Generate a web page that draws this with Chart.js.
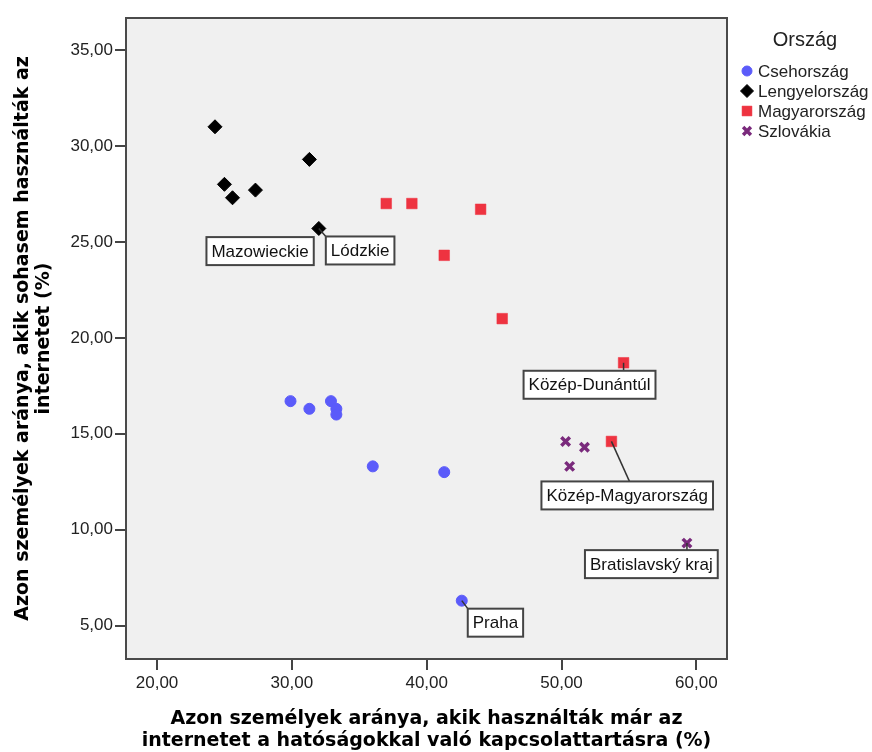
<!DOCTYPE html>
<html>
<head>
<meta charset="utf-8">
<script src="https://cdn.jsdelivr.net/npm/chart.js@4.4.1/dist/chart.umd.min.js"></script>
<style>
  html, body { margin: 0; padding: 0; background: #fff; }
</style>
</head>
<body>
<canvas id="myChart" width="872" height="752"></canvas>
<script>
// data
var countries = ['Csehország', 'Lengyelország', 'Magyarország', 'Szlovákia'];

var czX = [29.9, 31.3, 32.9, 33.3, 33.3, 36.0, 41.3, 42.6];
var czY = [16.7, 16.3, 16.7, 16.3, 16.0, 13.3, 13.0, 6.3];

var plX = [24.3, 31.3, 25.0, 25.6, 27.3, 32.0];
var plY = [31.0, 29.3, 28.0, 27.3, 27.7, 25.7];

var huX = [37.0, 38.9, 44.0, 41.3, 45.6, 54.6, 53.7];
var huY = [27.0, 27.0, 26.7, 24.3, 21.0, 18.7, 14.6];

var skX = [50.3, 51.7, 50.6, 59.3];
var skY = [14.6, 14.3, 13.3, 9.3];

var xTicks = [20, 30, 40, 50, 60];
var yTicks = [5, 10, 15, 20, 25, 30, 35];

// which point carries a name (series index, point index)
var pointLabels = [
  { series: 1, index: 4, text: 'Mazowieckie' },
  { series: 1, index: 5, text: 'Lódzkie' },
  { series: 2, index: 5, text: 'Közép-Dunántúl' },
  { series: 2, index: 6, text: 'Közép-Magyarország' },
  { series: 3, index: 3, text: 'Bratislavský kraj' },
  { series: 0, index: 7, text: 'Praha' }
];

// where the label boxes sit relative to their point
var labelPlacement = {
  'Mazowieckie': { dx: -49, dy: 47, noLine: true },
  'Lódzkie': { dx: 7, dy: 8 },
  'Közép-Dunántúl': { dx: -100, dy: 8 },
  'Közép-Magyarország': { dx: -70, dy: 40, lineTo: 88 },
  'Bratislavský kraj': { dx: -102, dy: 7 },
  'Praha': { dx: 6, dy: 8 }
};

function toPoints(xs, ys) {
  return xs.map(function (x, i) { return { x: x, y: ys[i] }; });
}

function fmt(v) {
  return v.toFixed(2).replace('.', ',');
}

var frame = {
  id: 'frame',
  beforeDatasetsDraw: function (chart) {
    var a = chart.chartArea, ctx = chart.ctx;
    ctx.save();
    ctx.fillStyle = '#f0f0f0';
    ctx.fillRect(a.left, a.top, a.right - a.left, a.bottom - a.top);
    ctx.restore();
  },
  afterDraw: function (chart) {
    var a = chart.chartArea, ctx = chart.ctx;
    ctx.save();
    ctx.strokeStyle = '#4a4a4a';
    ctx.lineWidth = 2;
    ctx.strokeRect(a.left, a.top, a.right - a.left, a.bottom - a.top);
    ctx.restore();
  }
};

var boxLabels = {
  id: 'boxLabels',
  afterDatasetsDraw: function (chart) {
    var ctx = chart.ctx;
    ctx.save();
    ctx.font = '17px "Liberation Sans", Arial, sans-serif';
    pointLabels.forEach(function (lab) {
      var el = chart.getDatasetMeta(lab.series).data[lab.index];
      var p = labelPlacement[lab.text];
      var w = ctx.measureText(lab.text).width + 10;
      var h = 28;
      var x0 = el.x + p.dx, y0 = el.y + p.dy;
      var tx, ty;
      if (p.lineTo !== undefined) {
        tx = x0 + p.lineTo; ty = y0;
      } else {
        tx = Math.min(Math.max(el.x, x0), x0 + w);
        ty = Math.min(Math.max(el.y, y0), y0 + h);
      }
      if (!p.noLine) {
        ctx.strokeStyle = '#333';
        ctx.lineWidth = 1.5;
        ctx.beginPath();
        ctx.moveTo(el.x, el.y);
        ctx.lineTo(tx, ty);
        ctx.stroke();
      }
      ctx.fillStyle = '#fff';
      ctx.fillRect(x0, y0, w, h);
      ctx.strokeStyle = '#444';
      ctx.lineWidth = 2;
      ctx.strokeRect(x0, y0, w, h);
      ctx.fillStyle = '#111';
      ctx.textBaseline = 'middle';
      ctx.textAlign = 'left';
      ctx.fillText(lab.text, x0 + 5, y0 + h / 2 + 1);
    });
    ctx.restore();
  }
};

var sideLegend = {
  id: 'sideLegend',
  afterDraw: function (chart) {
    var ctx = chart.ctx;
    var a = chart.chartArea;
    ctx.save();
    ctx.fillStyle = '#222';
    ctx.textAlign = 'center';
    ctx.textBaseline = 'middle';
    ctx.font = '20px "Liberation Sans", Arial, sans-serif';
    ctx.fillText('Ország', a.right + 78, 40);
    ctx.font = '17px "Liberation Sans", Arial, sans-serif';
    ctx.textAlign = 'left';
    chart.data.datasets.forEach(function (ds, i) {
      var y = 71 + i * 20;
      var mx = a.right + 20;
      ctx.fillStyle = ds.pointBackgroundColor;
      ctx.strokeStyle = ds.pointBorderColor;
      ctx.lineWidth = ds.pointBorderWidth;
      Chart.helpers.drawPoint(ctx, {
        pointStyle: ds.pointStyle,
        radius: ds.legendRadius,
        rotation: 0,
        borderWidth: ds.pointBorderWidth
      }, mx, y);
      ctx.fillStyle = '#222';
      ctx.fillText(ds.label, a.right + 31, y + 1);
    });
    ctx.restore();
  }
};

var ctx = document.getElementById('myChart').getContext('2d');
var chart = new Chart(ctx, {
  type: 'scatter',
  data: {
    datasets: [{
      label: countries[0],
      data: toPoints(czX, czY),
      pointStyle: 'circle',
      pointRadius: 5.5,
      legendRadius: 5,
      pointBackgroundColor: '#5b5bfa',
      pointBorderColor: '#5b5bfa',
      pointBorderWidth: 1
    }, {
      label: countries[1],
      data: toPoints(plX, plY),
      pointStyle: 'rectRot',
      pointRadius: 7,
      legendRadius: 6.5,
      pointBackgroundColor: '#000',
      pointBorderColor: '#000',
      pointBorderWidth: 1
    }, {
      label: countries[2],
      data: toPoints(huX, huY),
      pointStyle: 'rect',
      pointRadius: 7.5,
      legendRadius: 7,
      pointBackgroundColor: '#ee3340',
      pointBorderColor: '#ee3340',
      pointBorderWidth: 0.5
    }, {
      label: countries[3],
      data: toPoints(skX, skY),
      pointStyle: 'crossRot',
      pointRadius: 6,
      legendRadius: 5.5,
      pointBackgroundColor: '#7a2a7c',
      pointBorderColor: '#7a2a7c',
      pointBorderWidth: 3.5
    }]
  },
  options: {
    responsive: false,
    devicePixelRatio: 1,
    animation: false,
    layout: { padding: { top: 18, right: 145, left: 0, bottom: 0 } },
    plugins: {
      legend: { display: false },
      tooltip: { enabled: false }
    },
    scales: {
      x: {
        type: 'linear',
        min: 17.7,
        max: 62.27,
        afterBuildTicks: function (s) { s.ticks = xTicks.map(function (v) { return { value: v }; }); },
        afterFit: function (s) { s.height = 93; },
        border: { display: false },
        grid: { drawOnChartArea: false, drawTicks: true, tickLength: 11, color: '#444', lineWidth: 2 },
        ticks: {
          padding: 3,
          color: '#222',
          font: { family: '"Liberation Sans", Arial, sans-serif', size: 17 },
          callback: function (v) { return fmt(v); },
          maxRotation: 0,
          autoSkip: false
        },
        title: {
          display: true,
          text: ['Azon személyek aránya, akik használták már az', 'internetet a hatóságokkal való kapcsolattartásra (%)'],
          color: '#000',
          font: { family: '"DejaVu Sans", sans-serif', size: 19, weight: 'bold', lineHeight: 1.16 },
          padding: { top: 0, bottom: 0 }
        }
      },
      y: {
        type: 'linear',
        min: 3.26,
        max: 36.67,
        afterBuildTicks: function (s) { s.ticks = yTicks.map(function (v) { return { value: v }; }); },
        afterFit: function (s) { s.width = 126; },
        border: { display: false },
        grid: { drawOnChartArea: false, drawTicks: true, tickLength: 11, color: '#444', lineWidth: 2 },
        ticks: {
          padding: 2,
          color: '#222',
          font: { family: '"Liberation Sans", Arial, sans-serif', size: 17 },
          callback: function (v) { return fmt(v); },
          autoSkip: false
        },
        title: {
          display: true,
          text: ['Azon személyek aránya, akik sohasem használták az', 'internetet (%)'],
          color: '#000',
          font: { family: '"DejaVu Sans", sans-serif', size: 19, weight: 'bold', lineHeight: 1.1 },
          padding: { top: 12.5, bottom: 0 }
        }
      }
    }
  },
  plugins: [frame, boxLabels, sideLegend]
});
</script>
</body>
</html>
